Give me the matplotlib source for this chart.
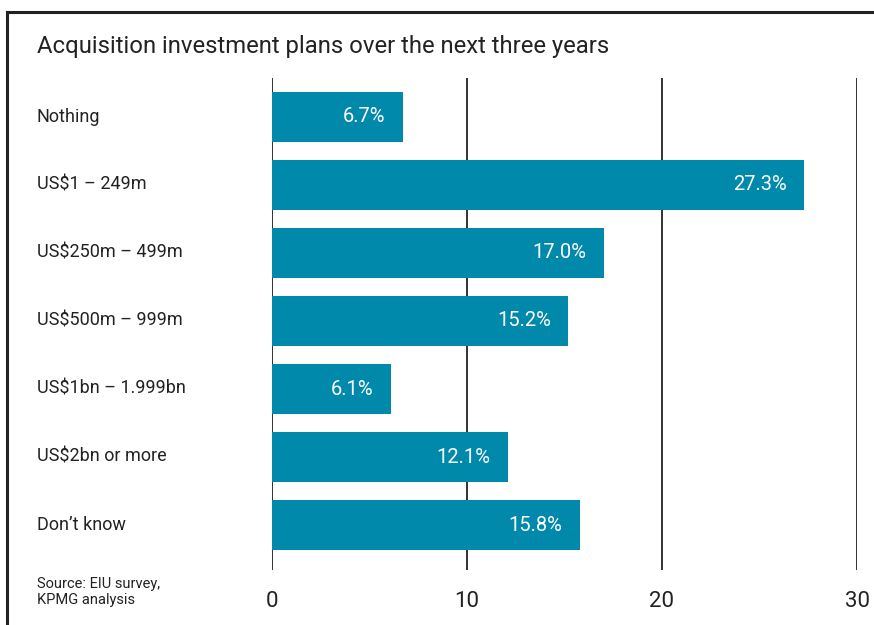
import matplotlib.pyplot as plt
from matplotlib.lines import Line2D

categories = ["Nothing", "US$1 – 249m", "US$250m – 499m", "US$500m – 999m",
              "US$1bn – 1.999bn", "US$2bn or more", "Don’t know"]
values = [6.7, 27.3, 17.0, 15.2, 6.1, 12.1, 15.8]
ticks = [0, 10, 20, 30]

plt.rcParams['font.family'] = ['Liberation Sans Narrow', 'Roboto', 'DejaVu Sans']

W, H = 874, 625
fig = plt.figure(figsize=(W / 100, H / 100), dpi=100)

# axes placed in pixel terms: x 272..857, y 78..570
ax = fig.add_axes([272 / W, 1 - 570 / H, 585 / W, (570 - 78) / H])
bar_color = '#0089ab'
pos = list(range(len(categories)))
ax.barh(pos, values, height=0.735, color=bar_color, zorder=2)
ax.set_xlim(0, 30)
ax.set_ylim(6 + 44.5 / 68, -38.5 / 68)

for t in ticks:
    ax.axvline(t, color='#222222', lw=1.3, zorder=1)

for y, v in zip(pos, values):
    ax.text(v - 0.9, y, f"{v:.1f}%", color='white', fontsize=14.5,
            ha='right', va='center', zorder=3)

for s in ax.spines.values():
    s.set_visible(False)
ax.set_yticks([])
ax.set_xticks(ticks)
ax.set_xticklabels([str(t) for t in ticks], fontsize=16, color='#222222')
ax.tick_params(axis='x', length=0, pad=15)

for y, c in zip(pos, categories):
    yp = 1 - (116.5 + 68 * y) / H
    fig.text(37 / W, yp, c, fontsize=13, color='#222222', va='center', ha='left')

fig.text(37 / W, 1 - 46 / H, "Acquisition investment plans over the next three years",
         fontsize=17.2, color='#222222', va='center', ha='left')
fig.text(37 / W, 1 - 592 / H, "Source: EIU survey,\nKPMG analysis",
         fontsize=10.5, color='#222222', va='center', ha='left', linespacing=1.1)

# frame lines along the top and left edge
fig.add_artist(Line2D([7 / W, 1], [1 - 12 / H, 1 - 12 / H], color='#222222', lw=2.2))
fig.add_artist(Line2D([7 / W, 7 / W], [0, 1 - 12 / H], color='#222222', lw=2.2))

fig.savefig('out.png', dpi=100)
